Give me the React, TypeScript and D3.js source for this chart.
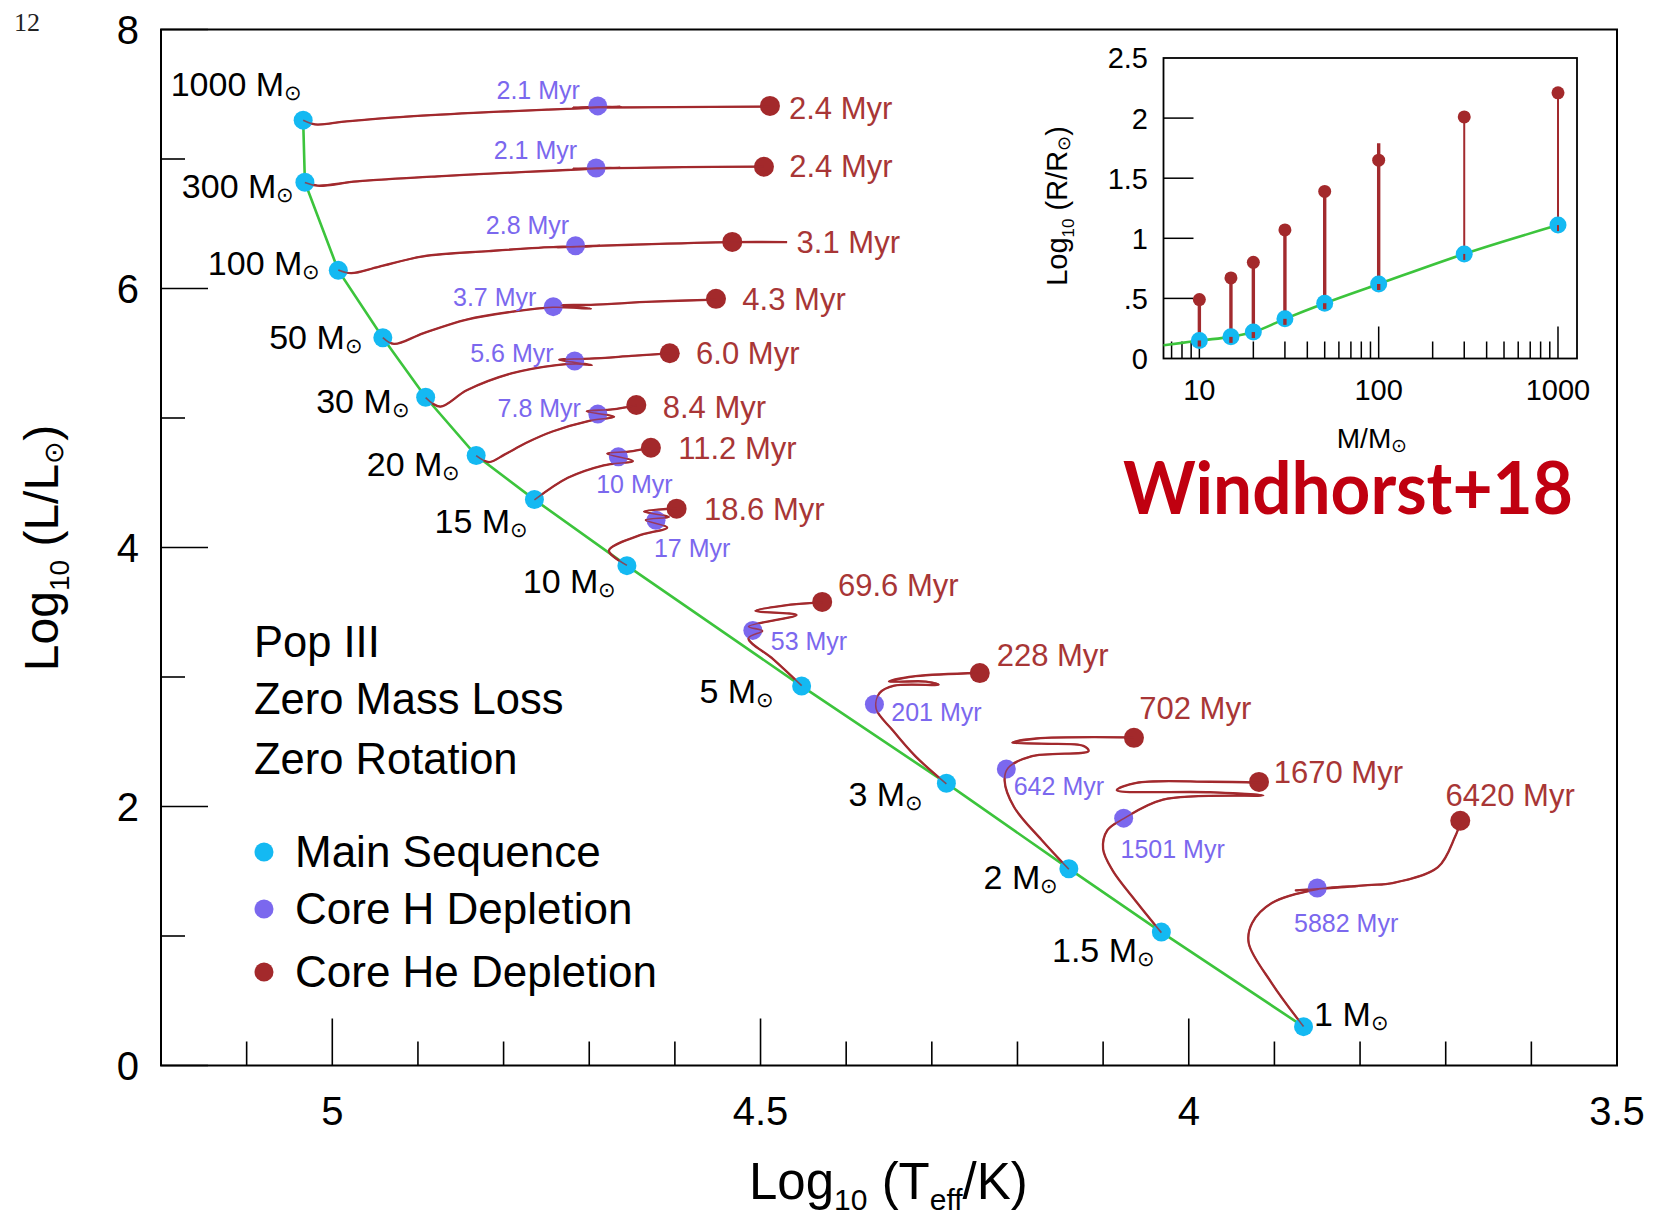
import React from "react";
import * as d3 from "d3";

const W = 1654;
const H = 1215;
const K = 1654 / 1568;

// ---------- main HR diagram data ----------
const masses = ["1000", "300", "100", "50", "30", "20", "15", "10", "5", "3", "2", "1.5", "1"];
const msLogT = [5.034, 5.032, 4.993, 4.941, 4.891, 4.832, 4.764, 4.656, 4.452, 4.283, 4.14, 4.032, 3.866];
const msLogL = [7.3, 6.82, 6.14, 5.62, 5.16, 4.71, 4.37, 3.86, 2.93, 2.18, 1.52, 1.03, 0.3];
const hLogT = [4.69, 4.692, 4.716, 4.742, 4.717, 4.69, 4.666, 4.622, 4.509, 4.367, 4.213, 4.076, 3.85];
const hLogL = [7.41, 6.93, 6.33, 5.86, 5.44, 5.03, 4.7, 4.21, 3.36, 2.79, 2.29, 1.91, 1.37];
const heLogT = [4.489, 4.496, 4.533, 4.552, 4.606, 4.645, 4.628, 4.598, 4.428, 4.244, 4.064, 3.918, 3.683];
const heLogL = [7.41, 6.94, 6.36, 5.92, 5.5, 5.1, 4.77, 4.3, 3.58, 3.03, 2.53, 2.19, 1.89];
const hAges = ["2.1 Myr", "2.1 Myr", "2.8 Myr", "3.7 Myr", "5.6 Myr", "7.8 Myr", "10 Myr", "17 Myr", "53 Myr", "201 Myr", "642 Myr", "1501 Myr", "5882 Myr"];
const heAges = ["2.4 Myr", "2.4 Myr", "3.1 Myr", "4.3 Myr", "6.0 Myr", "8.4 Myr", "11.2 Myr", "18.6 Myr", "69.6 Myr", "228 Myr", "702 Myr", "1670 Myr", "6420 Myr"];

// evolutionary tracks [logTeff, logL]
const track1000 = [[5.034, 7.299], [5.02, 7.267], [4.983, 7.291], [4.921, 7.324], [4.835, 7.356], [4.749, 7.381], [4.69, 7.397], [4.663, 7.405], [4.719, 7.397], [4.602, 7.401], [4.489, 7.405]];
const track300 = [[5.032, 6.819], [5.017, 6.794], [4.971, 6.827], [4.872, 6.868], [4.774, 6.9], [4.692, 6.925], [4.663, 6.933], [4.719, 6.925], [4.59, 6.937], [4.496, 6.941]];
const track100 = [[4.993, 6.143], [4.978, 6.118], [4.946, 6.167], [4.894, 6.248], [4.817, 6.289], [4.738, 6.322], [4.715, 6.322], [4.688, 6.33], [4.737, 6.318], [4.651, 6.338], [4.533, 6.358], [4.469, 6.358]];
const track50 = [[4.941, 5.621], [4.928, 5.572], [4.894, 5.654], [4.843, 5.76], [4.79, 5.821], [4.743, 5.855], [4.698, 5.845], [4.733, 5.87], [4.698, 5.874], [4.627, 5.898], [4.552, 5.914]];
const track30 = [[4.891, 5.157], [4.874, 5.088], [4.843, 5.214], [4.791, 5.344], [4.738, 5.409], [4.715, 5.418], [4.697, 5.409], [4.735, 5.45], [4.7, 5.458], [4.651, 5.479], [4.606, 5.499]];
const track20 = [[4.832, 4.709], [4.817, 4.66], [4.799, 4.717], [4.774, 4.807], [4.743, 4.896], [4.7, 4.978], [4.671, 5.01], [4.703, 5.051], [4.673, 5.067], [4.645, 5.096]];
const track15 = [[4.764, 4.367], [4.725, 4.538], [4.683, 4.635], [4.649, 4.668], [4.679, 4.725], [4.654, 4.741], [4.628, 4.77]];
const track10 = [[4.656, 3.862], [4.677, 3.976], [4.643, 4.09], [4.609, 4.155], [4.634, 4.212], [4.607, 4.236], [4.636, 4.277], [4.598, 4.301]];
const track5 = [[4.452, 2.933], [4.485, 3.136], [4.514, 3.299], [4.498, 3.356], [4.514, 3.389], [4.458, 3.479], [4.506, 3.511], [4.473, 3.552], [4.428, 3.576]];
const track3 = [[4.283, 2.175], [4.319, 2.387], [4.346, 2.591], [4.365, 2.754], [4.361, 2.876], [4.344, 2.933], [4.292, 2.941], [4.307, 2.965], [4.35, 2.965], [4.319, 3.006], [4.245, 3.031]];
const track2 = [[4.14, 1.515], [4.172, 1.743], [4.204, 1.996], [4.215, 2.2], [4.211, 2.297], [4.184, 2.387], [4.117, 2.428], [4.123, 2.468], [4.172, 2.485], [4.206, 2.493], [4.178, 2.525], [4.064, 2.534]];
const track1p5 = [[4.032, 1.026], [4.061, 1.263], [4.089, 1.507], [4.1, 1.67], [4.095, 1.817], [4.076, 1.906], [4.03, 2.053], [3.913, 2.086], [3.975, 2.11], [4.084, 2.126], [4.061, 2.183], [3.975, 2.191], [3.915, 2.183]];
const track1 = [[3.866, 0.301], [3.903, 0.635], [3.93, 0.945], [3.926, 1.1], [3.903, 1.255], [3.85, 1.36], [3.803, 1.385], [3.875, 1.352], [3.791, 1.393], [3.762, 1.409], [3.709, 1.532], [3.689, 1.768], [3.682, 1.89]];
const tracks = [track1000, track300, track100, track50, track30, track20, track15, track10, track5, track3, track2, track1p5, track1];

const xMajor = [5, 4.5, 4, 3.5];
const xTickLabels = ["5", "4.5", "4", "3.5"];
const xMinor = [5.1, 4.9, 4.8, 4.7, 4.6, 4.4, 4.3, 4.2, 4.1, 3.9, 3.8, 3.7, 3.6];
const yMajor = [0, 2, 4, 6, 8];
const yTickLabels = ["0", "2", "4", "6", "8"];
const yMinor = [1, 3, 5, 7];

// ---------- inset data ----------
const insetMass = [10, 15, 20, 30, 50, 100, 300, 1000];
const insetLogRms = [0.15, 0.18, 0.22, 0.33, 0.46, 0.62, 0.87, 1.11];
const insetLogRhe = [0.49, 0.67, 0.8, 1.07, 1.39, 1.65, 2.01, 2.21];
const insetLineTop = [0.49, 0.67, 0.8, 1.07, 1.39, 1.79, 2.01, 2.21];
const insetGreenMass = [6.31, 8, 10, 15, 20, 30, 50, 100, 300, 1000];
const insetGreenR = [0.11, 0.13, 0.15, 0.18, 0.22, 0.33, 0.46, 0.62, 0.87, 1.11];
const insetYTicks = [0, 0.5, 1, 1.5, 2, 2.5];
const insetYTickLabels = ["0", ".5", "1", "1.5", "2", "2.5"];
const insetXMajor = [10, 100, 1000];
const insetXTickLabels = ["10", "100", "1000"];
const insetXMinor = [7, 8, 9, 20, 30, 40, 50, 60, 70, 80, 90, 200, 300, 400, 500, 600, 700, 800, 900];

// ---------- layout (label offsets, reference px) ----------
const massLabelOff: [number, number, string][] = [
  [-1, -23, "end"], [-10, 15, "end"], [-17, 4, "end"], [-19, 11, "end"], [-15, 15, "end"],
  [-15, 19, "end"], [-6, 32, "end"], [-10, 26, "end"], [-26, 16, "end"], [-22, 22, "end"],
  [-10, 19, "end"], [-6, 28, "end"], [10, -1, "start"],
];
const hLabelOff: [number, number, string][] = [
  [-17, -7, "end"], [-18, -9, "end"], [-6, -11, "end"], [-16, -1, "end"], [-20, 1, "end"],
  [-16, 3, "end"], [-21, 34, "start"], [-2, 35, "start"], [17, 19, "start"], [16, 16, "start"],
  [7, 25, "start"], [-3, 38, "start"], [-22, 42, "start"],
];
const heLabelOff: [number, number][] = [
  [18, 12], [24, 10], [61, 11], [25, 11], [25, 10], [25, 12], [26, 11], [26, 11],
  [15, -6], [16, -7], [5, -18], [14, 1], [-14, -14],
];

const C_BLUE = "#14b9f2";
const C_PURPLE = "#7b68ee";
const C_RED = "#a3292b";
const C_TRACK = "#a22a2e";
const C_GREEN = "#3cc43c";
const C_REDTXT = "#a83636";
const FONT = "'Liberation Sans', Arial, Helvetica, sans-serif";

export default function App() {
  const x = d3.scaleLinear().domain([5.2, 3.5]).range([161, 1617]);
  const y = d3.scaleLinear().domain([0, 8]).range([1065.5, 29.5]);
  const trackLine = d3
    .line<number[]>()
    .x((d) => x(d[0]))
    .y((d) => y(d[1]))
    .curve(d3.curveCatmullRom.alpha(0.5));
  const msLine = d3
    .line<number>()
    .x((_, i) => x(msLogT[i]))
    .y((_, i) => y(msLogL[i]));

  const ix = d3.scaleLog().domain([Math.pow(10, 0.8), Math.pow(10, 3.106)]).range([1163.5, 1577]);
  const iy = d3.scaleLinear().domain([0, 2.5]).range([358.5, 58]);
  const insetGreen = d3
    .line<number>()
    .x((_, i) => ix(insetGreenMass[i]))
    .y((_, i) => iy(insetGreenR[i]))
    .curve(d3.curveMonotoneX);

  const x0 = x.range()[0], x1 = x.range()[1];
  const y0 = y.range()[0], y1 = y.range()[1];
  const majLen = 47, minLen = 24;
  const mfs = 34; // mass label font size

  return (
    <>
      <style>{`body{margin:0;} svg{display:block;}`}</style>
      <svg width={W} height={H} viewBox={`0 0 ${W} ${H}`} style={{ background: "#fff" }} fontFamily={FONT}>
        <rect x={0} y={0} width={W} height={H} fill="#fff" />
        {/* page number */}
        <text x={14} y={31} fontFamily="'Liberation Serif', 'DejaVu Serif', serif" fontSize={26} fill="#222">12</text>

        {/* ticks */}
        <g stroke="#000" strokeWidth={1.6}>
          {xMajor.map((v) => (
            <line key={"xM" + v} x1={x(v)} x2={x(v)} y1={y0} y2={y0 - majLen} />
          ))}
          {xMinor.map((v) => (
            <line key={"xm" + v} x1={x(v)} x2={x(v)} y1={y0} y2={y0 - minLen} />
          ))}
          {yMajor.map((v) => (
            <line key={"yM" + v} x1={x0} x2={x0 + majLen} y1={y(v)} y2={y(v)} />
          ))}
          {yMinor.map((v) => (
            <line key={"ym" + v} x1={x0} x2={x0 + minLen} y1={y(v)} y2={y(v)} />
          ))}
        </g>
        {/* frame */}
        <rect x={x0} y={y1} width={x1 - x0} height={y0 - y1} fill="none" stroke="#000" strokeWidth={2} />

        {/* tick labels */}
        {yMajor.map((v, i) => (
          <text key={"yl" + v} x={139} y={y(v)} dy="0.36em" textAnchor="end" fontSize={40} fill="#000">
            {yTickLabels[i]}
          </text>
        ))}
        {xMajor.map((v, i) => (
          <text key={"xl" + v} x={x(v)} y={1111} dy="0.36em" textAnchor="middle" fontSize={40} fill="#000">
            {xTickLabels[i]}
          </text>
        ))}

        {/* axis titles */}
        <text x={749} y={1199} fontSize={51} fill="#000">
          Log<tspan fontSize={30} dy={11}>10</tspan>
          <tspan dy={-11}> (T</tspan>
          <tspan fontSize={30} dy={11}>eff</tspan>
          <tspan dy={-11}>/K)</tspan>
        </text>
        <text transform="translate(58,548) rotate(-90)" textAnchor="middle" fontSize={48} fill="#000">
          Log<tspan fontSize={28} dy={11}>10</tspan>
          <tspan dy={-11}> (L/L</tspan>
          <tspan fontSize={27} dy={5}>⊙</tspan>
          <tspan dy={-5}>)</tspan>
        </text>

        {/* main sequence */}
        <path d={msLine(msLogT) || ""} fill="none" stroke={C_GREEN} strokeWidth={2.6} />

        {/* tracks */}
        {tracks.map((t, i) => (
          <path key={"tr" + i} d={trackLine(t as number[][]) || ""} fill="none" stroke={C_TRACK} strokeWidth={2.3} strokeLinejoin="round" />
        ))}

        {/* points */}
        {masses.map((m, i) => (
          <g key={"pt" + m}>
            <circle cx={x(msLogT[i])} cy={y(msLogL[i])} r={9.5} fill={C_BLUE} />
            <circle cx={x(hLogT[i])} cy={y(hLogL[i])} r={9.5} fill={C_PURPLE} />
            <circle cx={x(heLogT[i])} cy={y(heLogL[i])} r={10} fill={C_RED} />
          </g>
        ))}
        {/* re-draw tracks thinly over dots to mimic overlap */}
        {tracks.map((t, i) => (
          <path key={"tr2" + i} d={trackLine(t as number[][]) || ""} fill="none" stroke={C_TRACK} strokeWidth={1.6} opacity={0.75} />
        ))}

        {/* mass labels */}
        {masses.map((m, i) => {
          const [dx, dy, anchor] = massLabelOff[i];
          return (
            <text key={"ml" + m} x={x(msLogT[i]) + dx * K} y={y(msLogL[i]) + dy * K} textAnchor={anchor as any} fontSize={mfs} fill="#000">
              {m} M<tspan fontSize={mfs * 0.62} dy={4}>⊙</tspan>
            </text>
          );
        })}

        {/* H depletion ages */}
        {hAges.map((a, i) => {
          const [dx, dy, anchor] = hLabelOff[i];
          return (
            <text key={"ha" + i} x={x(hLogT[i]) + dx * K} y={y(hLogL[i]) + dy * K} textAnchor={anchor as any} fontSize={25} fill={C_PURPLE}>
              {a}
            </text>
          );
        })}
        {/* He depletion ages */}
        {heAges.map((a, i) => {
          const [dx, dy] = heLabelOff[i];
          return (
            <text key={"hea" + i} x={x(heLogT[i]) + dx * K} y={y(heLogL[i]) + dy * K} fontSize={31} fill={C_REDTXT}>
              {a}
            </text>
          );
        })}

        {/* annotation text */}
        <g fontSize={43.5} fill="#000">
          <text x={254} y={657}>Pop III</text>
          <text x={254} y={714}>Zero Mass Loss</text>
          <text x={254} y={774}>Zero Rotation</text>
        </g>
        {/* legend */}
        <g fontSize={44} fill="#000">
          <circle cx={264} cy={852} r={9.5} fill={C_BLUE} />
          <text x={295} y={867}>Main Sequence</text>
          <circle cx={264} cy={909} r={9.5} fill={C_PURPLE} />
          <text x={295} y={924}>Core H Depletion</text>
          <circle cx={264} cy={972} r={9.5} fill={C_RED} />
          <text x={295} y={987}>Core He Depletion</text>
        </g>

        {/* Windhorst+18 */}
        <text x={1123} y={514} fontFamily="Lato, 'Open Sans', sans-serif" fontWeight={700} fontSize={72} fill="#c00010" textLength={450} lengthAdjust="spacingAndGlyphs">
          Windhorst+18
        </text>

        {/* ---------- inset ---------- */}
        <g>
          <g stroke="#000" strokeWidth={1.5}>
            {insetYTicks.filter((v) => v > 0 && v < 2.5).map((v) => (
              <line key={"iyt" + v} x1={ix.range()[0]} x2={ix.range()[0] + 30} y1={iy(v)} y2={iy(v)} />
            ))}
            {insetXMajor.map((v) => (
              <line key={"ixM" + v} x1={ix(v)} x2={ix(v)} y1={iy(0)} y2={iy(0) - 32} />
            ))}
            {insetXMinor.map((v) => (
              <line key={"ixm" + v} x1={ix(v)} x2={ix(v)} y1={iy(0)} y2={iy(0) - 17} />
            ))}
          </g>
          <rect x={ix.range()[0]} y={iy(2.5)} width={ix.range()[1] - ix.range()[0]} height={iy(0) - iy(2.5)} fill="none" stroke="#000" strokeWidth={1.8} />
          {insetYTicks.map((v, i) => (
            <text key={"iyl" + v} x={1148} y={iy(v)} dy="0.36em" textAnchor="end" fontSize={29} fill="#000">
              {insetYTickLabels[i]}
            </text>
          ))}
          {insetXMajor.map((v, i) => (
            <text key={"ixl" + v} x={ix(v)} y={390} dy="0.36em" textAnchor="middle" fontSize={29} fill="#000">
              {insetXTickLabels[i]}
            </text>
          ))}
          <text x={1372} y={448} textAnchor="middle" fontSize={28} fill="#000">
            M/M<tspan fontSize={19} dy={4}>⊙</tspan>
          </text>
          <text transform="translate(1067,206) rotate(-90)" textAnchor="middle" fontSize={29} fill="#000">
            Log<tspan fontSize={17} dy={7}>10</tspan>
            <tspan dy={-7}> (R/R</tspan>
            <tspan fontSize={18} dy={3}>⊙</tspan>
            <tspan dy={-3}>)</tspan>
          </text>

          <path d={insetGreen(insetGreenMass) || ""} fill="none" stroke={C_GREEN} strokeWidth={2.6} />
          {insetMass.map((m, i) => (
            <line key={"il" + m} x1={ix(m)} x2={ix(m)} y1={iy(insetLogRms[i]) + 6} y2={iy(insetLineTop[i])} stroke={C_TRACK} strokeWidth={m >= 300 ? 2 : 3.4} />
          ))}
          {insetMass.map((m, i) => (
            <circle key={"ib" + m} cx={ix(m)} cy={iy(insetLogRms[i])} r={8.5} fill={C_BLUE} />
          ))}
          {insetMass.map((m, i) => (
            <line key={"il2" + m} x1={ix(m)} x2={ix(m)} y1={iy(insetLogRms[i]) + 6} y2={iy(insetLogRms[i])} stroke={C_TRACK} strokeWidth={m >= 300 ? 2 : 3.4} />
          ))}
          {insetMass.map((m, i) => (
            <circle key={"ir" + m} cx={ix(m)} cy={iy(insetLogRhe[i])} r={6.5} fill={C_RED} />
          ))}
        </g>
      </svg>
    </>
  );
}
